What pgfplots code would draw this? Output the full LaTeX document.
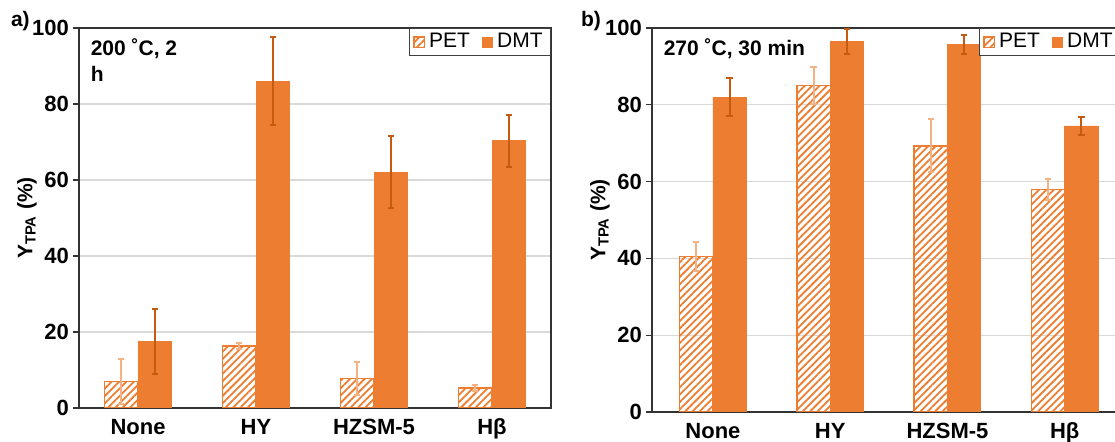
\documentclass[border=0pt]{standalone}
\usepackage{pgfplots}
\pgfplotsset{compat=1.18}
\usepackage{fontspec}
\setmainfont{Liberation Sans}
\usetikzlibrary{patterns.meta}
\definecolor{org}{HTML}{ED7D31}
\definecolor{orgdark}{HTML}{C55A11}
\definecolor{orglight}{HTML}{F4B183}

% yields (%) with symmetric error bars: x  y  err
\pgfplotstableread{
x y e
0 7.0 6.0
1 16.3 0.7
2 7.7 4.3
3 5.3 0.8
}\petA
\pgfplotstableread{
x y e
0 17.5 8.5
1 86.0 11.5
2 62.0 9.5
3 70.3 6.8
}\dmtA
\pgfplotstableread{
x y e
0 40.5 3.8
1 85.0 4.8
2 69.3 6.9
3 58.0 2.7
}\petB
\pgfplotstableread{
x y e
0 82.0 5.0
1 96.5 3.3
2 95.8 2.5
3 74.5 2.3
}\dmtB

\pgfplotsset{
  panel/.style={
    scale only axis, ybar, bar width=0.285,
    ymin=0, ymax=100, ytick={0,20,...,100},
    xtick={0,1,2,3}, xticklabels={None,HY,HZSM-5,Hβ},
    ymajorgrids, grid style={draw=black!15, line width=0.6pt},
    ytick pos=left, tick align=outside, major tick length=3pt,
    major x tick style={draw=none},
    axis line style={draw=black!80, line width=0.6pt},
    tick style={draw=black!80, line width=0.6pt},
    /pgf/number format/assume math mode=true,
    tick label style={font=\fontsize{11}{12}\selectfont\bfseries},
    yticklabel style={xshift=1.5pt},
    ylabel={\textbf{Y\textsubscript{TPA} (\%)}},
    every axis y label/.style={at={(rel axis cs:0,0.5)}, xshift=-26pt,
      rotate=90, anchor=center, font=\fontsize{10.5}{12}\selectfont},
    legend columns=2,
    legend style={at={(1,1)}, anchor=north east, draw=black!75,
      font=\fontsize{10.5}{11}\selectfont, inner xsep=2pt, inner ysep=0.5pt,
      /tikz/every even column/.append style={column sep=4pt}},
    area legend,
    legend image code/.code={\draw[#1] (0pt,-2.6pt) rectangle (5.2pt,2.6pt);},
  },
  pet/.style={draw=org, line width=0.7pt,
    pattern={Lines[angle=45, distance=2.6pt, line width=0.9pt]}, pattern color=org,
    bar shift=-0.1425,
    error bars/.cd, y dir=both, y explicit,
    error bar style={draw=orglight, line width=1pt},
    error mark options={draw=orglight, rotate=90, mark size=1.6pt, line width=1pt}},
  dmt/.style={draw=org, fill=org, bar shift=0.1425,
    error bars/.cd, y dir=both, y explicit,
    error bar style={draw=orgdark, line width=1pt},
    error mark options={draw=orgdark, rotate=90, mark size=1.6pt, line width=1pt}},
}

\begin{document}
\begin{tikzpicture}
\begin{axis}[panel, at={(39.5pt,17pt)}, anchor=south west,
  width=236pt, height=190pt, xmin=-0.5, xmax=3.5,
  xticklabel style={yshift=1pt}]
\addplot[pet] table[x=x, y=y, y error=e] {\petA};
\addplot[dmt] table[x=x, y=y, y error=e] {\dmtA};
\legend{PET, DMT}
\node[anchor=north west, align=left, font=\fontsize{10.5}{13}\selectfont\bfseries]
  at (rel axis cs:0.01,0.99) {200 ˚C, 2\\h};
\end{axis}

\begin{axis}[panel, at={(326pt,15pt)}, anchor=south west,
  width=234.5pt, height=192pt, xmin=-0.52, xmax=3.48,
  axis y line*=left,
  xticklabel style={yshift=1pt}]
\addplot[pet] table[x=x, y=y, y error=e] {\petB};
\addplot[dmt] table[x=x, y=y, y error=e] {\dmtB};
\legend{PET, DMT}
\node[anchor=north west, align=left, font=\fontsize{10.5}{13}\selectfont\bfseries]
  at (rel axis cs:0.01,0.99) {270 ˚C, 30 min};
\end{axis}

\node[anchor=north west, font=\fontsize{10.5}{12}\selectfont\bfseries] at (2pt,219pt) {a)};
\node[anchor=north west, font=\fontsize{10.5}{12}\selectfont\bfseries] at (287pt,219pt) {b)};

\pgfresetboundingbox
\path (0pt,0pt) rectangle (557.5pt,221pt);
\end{tikzpicture}
\end{document}
